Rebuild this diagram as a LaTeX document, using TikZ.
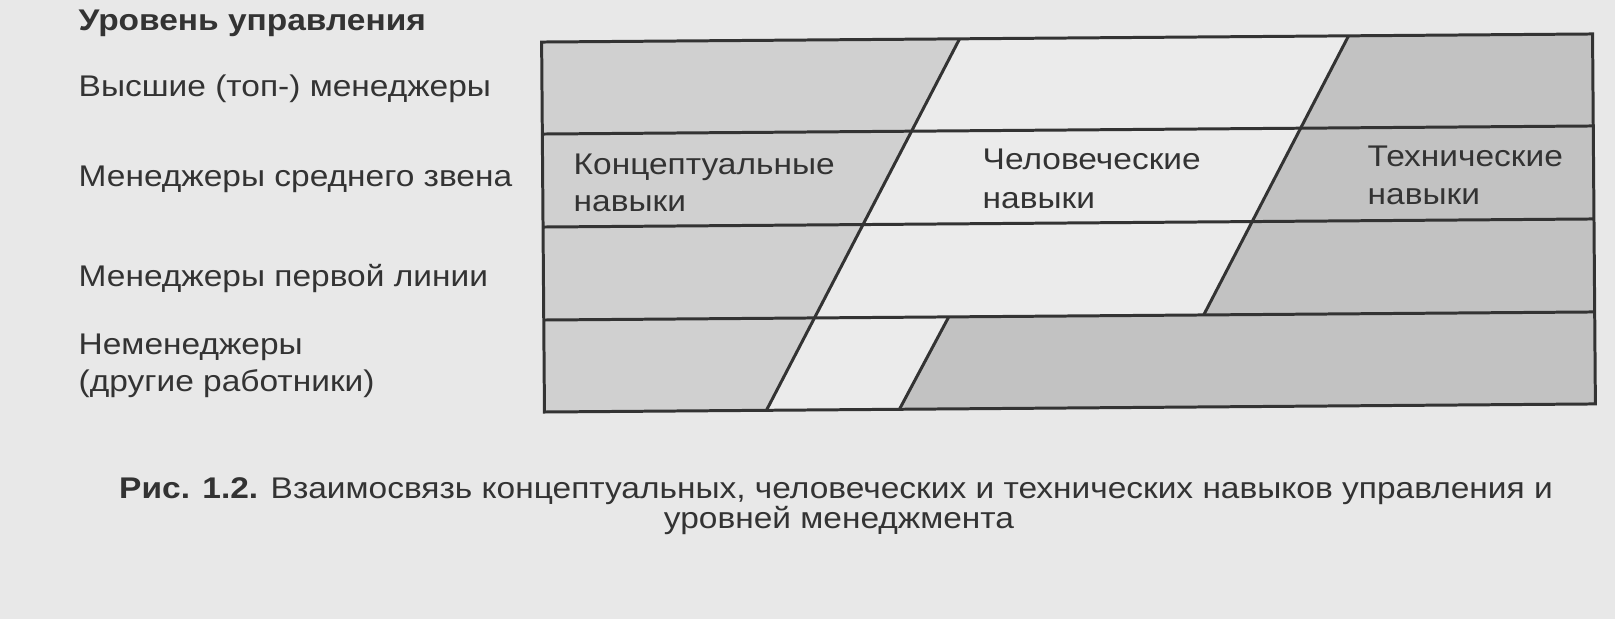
\documentclass[tikz,border=0pt]{standalone}
\usepackage{fontspec}
\setmainfont{Liberation Sans}[FakeStretch=1.12]
\usepackage{xcolor}
\usetikzlibrary{positioning}
\definecolor{paper}{HTML}{E8E8E8}
\definecolor{ink}{HTML}{333333}
\definecolor{concfill}{HTML}{D0D0D0}
\definecolor{humfill}{HTML}{EBEBEB}
\definecolor{techfill}{HTML}{C2C2C2}
\tikzstyle{frameline} = [draw=ink, line width=0.85pt]
\tikzstyle{leveltext} = [anchor=base west, inner sep=0pt, text=ink, font=\fontsize{8.5}{10}\selectfont]
\tikzstyle{headtext} = [leveltext, font=\fontsize{8.5}{10}\selectfont\bfseries]
\tikzstyle{captext} = [anchor=base, inner sep=0pt, text=ink, font=\fontsize{8.5}{10}\selectfont]

\begin{document}
\begin{tikzpicture}[x=0.01cm, y=-0.01cm]
\useasboundingbox [fill=paper] (0,0) rectangle (1615,619);
\begin{scope}[rotate around={0.44:(1068,223)}]
    \fill [concfill] (543,38) -- (961,38) -- (765,408) -- (543,408) -- cycle;
    \fill [humfill] (961,38) -- (1350,38) -- (1203,316) -- (948,316) -- (898,408) -- (765,408) -- cycle;
    \fill [techfill] (1350,38) -- (1594,38) -- (1594,408) -- (898,408) -- (948,316) -- (1203,316) -- cycle;
    \draw [frameline] (543,38) rectangle (1594,408);
    \draw [frameline] (543,130) -- (1594,130);
    \draw [frameline] (543,223) -- (1594,223);
    \draw [frameline] (543,316) -- (1594,316);
    \draw [frameline] (961,38) -- (765,408);
    \draw [frameline] (1350,38) -- (1203,316);
    \draw [frameline] (948,316) -- (898,408);
\end{scope}
\node [headtext] (level) at (78,31) {Уровень управления};
\node [leveltext] (top) at (78,97) {Высшие (топ-) менеджеры};
\node [leveltext] (middle) at (78,187) {Менеджеры среднего звена};
\node [leveltext] (first) at (78,287) {Менеджеры первой линии};
\node [leveltext] (nonman) at (78,355) {Неменеджеры};
\node [leveltext] (others) at (78,392) {(другие работники)};
\node [leveltext] (conc) at (573,175) {Концептуальные};
\node [leveltext] (concb) at (573,212) {навыки};
\node [leveltext] (hum) at (982,170) {Человеческие};
\node [leveltext] (humb) at (982,209) {навыки};
\node [leveltext] (tech) at (1367,167) {Технические};
\node [leveltext] (techb) at (1367,205) {навыки};
\node [captext] (cap) at (836,499) {\textbf{Рис. 1.2.} Взаимосвязь концептуальных, человеческих и технических навыков управления и};
\node [captext] (capb) at (839,529) {уровней менеджмента};
\end{tikzpicture}
\end{document}
